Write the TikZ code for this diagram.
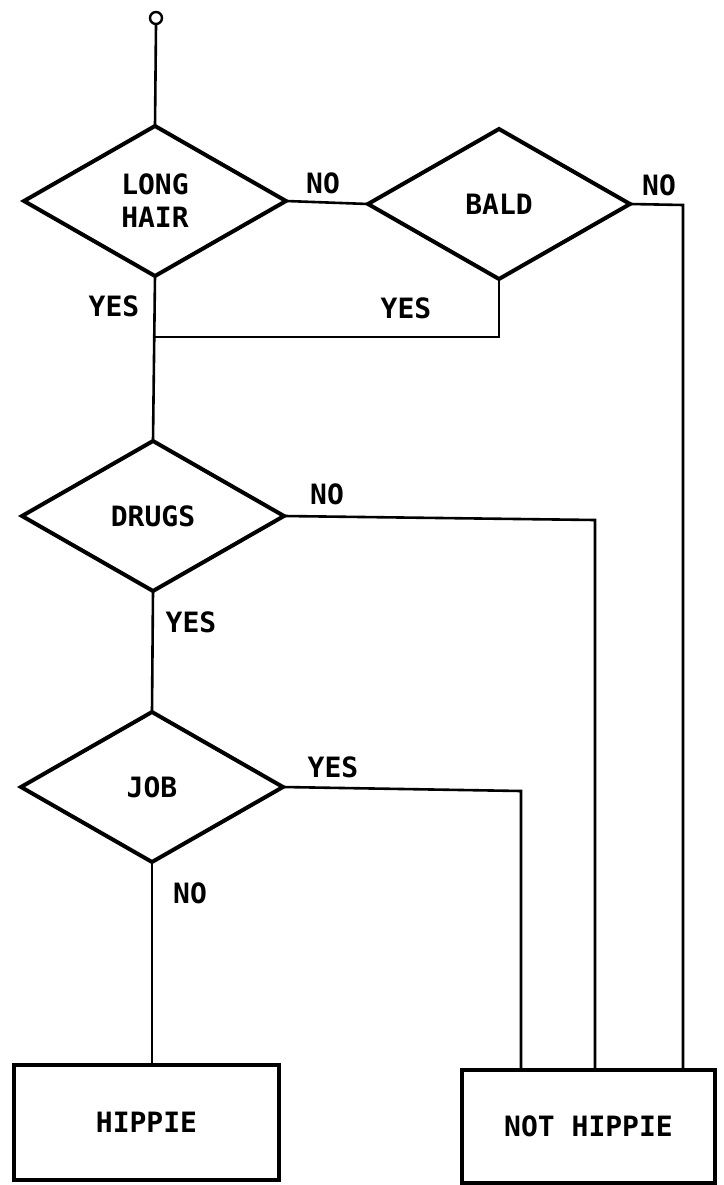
\documentclass[tikz,border=0pt]{standalone}
\usepackage{fontspec}
\setmainfont{DejaVu Sans Mono}
\usetikzlibrary{shapes.geometric}
\tikzset{
  dec/.style={draw, diamond, line width=4pt, minimum width=262pt, minimum height=150pt, inner sep=0pt, outer sep=0pt, align=center, font=\chartfont},
  endbox/.style={draw, rectangle, line width=4.5pt, inner sep=0pt, outer sep=0pt, font=\chartfont},
  conn/.style={line width=2.6pt, line join=miter},
  lab/.style={inner sep=0pt, font=\chartfont},
}
\newcommand{\chartfont}{\fontsize{28}{33}\selectfont\bfseries}
\begin{document}
\begin{tikzpicture}[x=1pt,y=-1pt]
\useasboundingbox (0,0) rectangle (723,1185);
% start terminal
\node[draw, circle, line width=2.4pt, minimum size=12pt, inner sep=0pt] (s) at (156,18) {};
% decisions
\node[dec] (lh) at (155,201) {LONG\\HAIR};
\node[dec] (bald) at (499,204) {BALD};
\node[dec] (drugs) at (153,516) {DRUGS};
\node[dec] (job) at (152,787) {JOB};
% outcomes
\node[endbox, minimum width=265pt, minimum height=115pt] (hip) at (146.5,1122.5) {HIPPIE};
\node[endbox, minimum width=253pt, minimum height=113pt] (nh) at (588.5,1126.5) {NOT HIPPIE};
% bends
\coordinate (c1) at (683,205);
\coordinate (c2) at (499,337);
\coordinate (c3) at (155,337);
\coordinate (c4) at (595,520);
\coordinate (c5) at (521,791);
% connectors
\draw[conn] (s.south) -- (lh.north);
\draw[conn] (lh.east) -- (bald.west);
\draw[conn] (bald.east) -- (c1) -- (c1 |- nh.north);
\draw[conn] (bald.south) -- (c2) -- (c3);
\draw[conn] (lh.south) -- (drugs.north);
\draw[conn] (drugs.east) -- (c4) -- (c4 |- nh.north);
\draw[conn] (drugs.south) -- (job.north);
\draw[conn] (job.east) -- (c5) -- (c5 |- nh.north);
\draw[conn] (job.south) -- (job.south |- hip.north);
% labels
\node[lab] (l1) at (323,183) {NO};
\node[lab] (l2) at (659,185) {NO};
\node[lab] (l3) at (114,306) {YES};
\node[lab] (l4) at (406,308) {YES};
\node[lab] (l5) at (327,494) {NO};
\node[lab] (l6) at (191,622) {YES};
\node[lab] (l7) at (333,767) {YES};
\node[lab] (l8) at (190,893) {NO};
\end{tikzpicture}
\end{document}
